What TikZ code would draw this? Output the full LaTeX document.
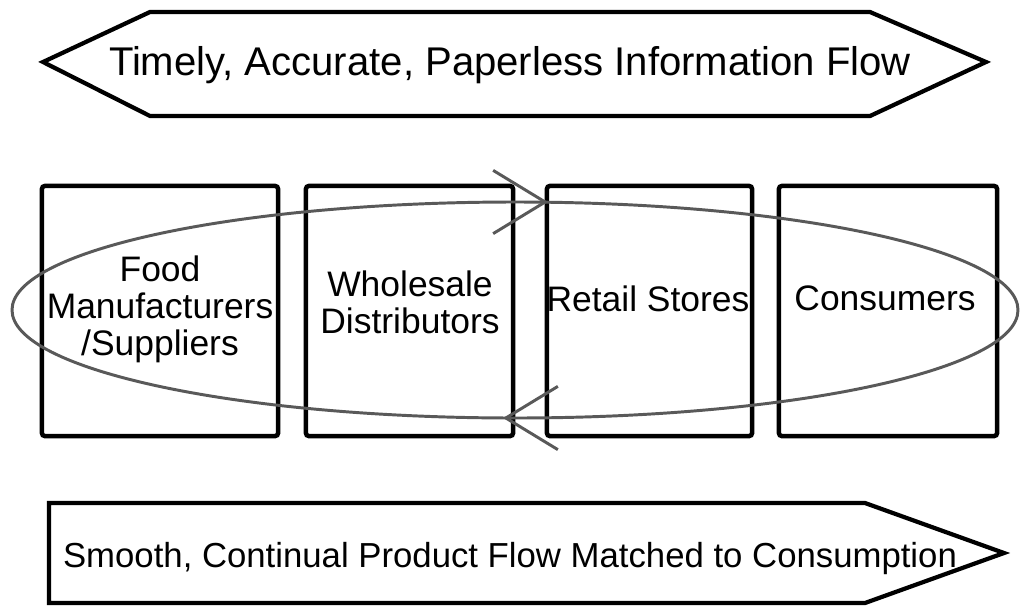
\documentclass[tikz,border=0pt]{standalone}
\usepackage{fontspec}
\setmainfont{Liberation Sans}
\usetikzlibrary{arrows.meta}
\definecolor{loopgray}{RGB}{89,89,89}

\begin{document}
\begin{tikzpicture}
  [x=0.025cm,y=-0.025cm,
   stage/.style={rectangle,draw=black,line width=3.2pt,rounded corners=2pt,
                 minimum width=#1,minimum height=6.25cm,inner sep=0pt},
   stagetext/.style={align=center,anchor=base,inner sep=0pt,
                     font=\fontsize{25.2pt}{26pt}\selectfont},
   banner/.style={draw=black,line width=3pt,fill=white},
   bannertext/.style={anchor=base,inner sep=0pt,font=\fontsize{#1}{#1}\selectfont},
   cycleloop/.style={draw=loopgray,line width=2.1pt},
   loopbarb/.style={draw=loopgray,line width=2.1pt,
                    -{Straight Barb[length=37pt,width=45pt]}}]
  \useasboundingbox (0,0) rectangle (1021,607);
  % information flow, both ways
  \draw[banner] (43,62) -- (150,12) -- (870,12) -- (986,62) -- (870,116) -- (150,116) -- cycle;
  \node[bannertext=28.5pt] (infoflow) at (510,75) {Timely, Accurate, Paperless Information Flow};
  % product flow, one way
  \draw[banner] (49,503) -- (865,503) -- (1004,553) -- (865,603) -- (49,603) -- cycle;
  \node[bannertext=24.7pt] (productflow) at (510,567) {Smooth, Continual Product Flow Matched to Consumption};
  % the four stages of the chain
  \node[stage=5.9cm]   (food)      at (160,311) {};
  \node[stage=5.175cm] (wholesale) at (409.5,311) {};
  \node[stage=5.125cm] (retail)    at (649.5,311) {};
  \node[stage=5.45cm]  (consumers) at (888,311) {};
  % base sits on the last line
  \node[stagetext] (foodtext)      at (160,355) {Food\\Manufacturers\\/Suppliers};
  \node[stagetext] (wholesaletext) at (410,333) {Wholesale\\Distributors};
  \node[stagetext] (retailtext)    at (648,311) {Retail Stores};
  \node[stagetext] (consumerstext) at (885,310) {Consumers};
  % the loop round them
  \draw[cycleloop] (515,310) ellipse [x radius=503, y radius=108];
  \coordinate (fwdtail) at (500,202);
  \coordinate (fwdtip)  at (548,202);
  \coordinate (backtail) at (556,418);
  \coordinate (backtip)  at (503,418);
  \draw[loopbarb] (fwdtail) -- (fwdtip);
  \draw[loopbarb] (backtail) -- (backtip);
\end{tikzpicture}
\end{document}
